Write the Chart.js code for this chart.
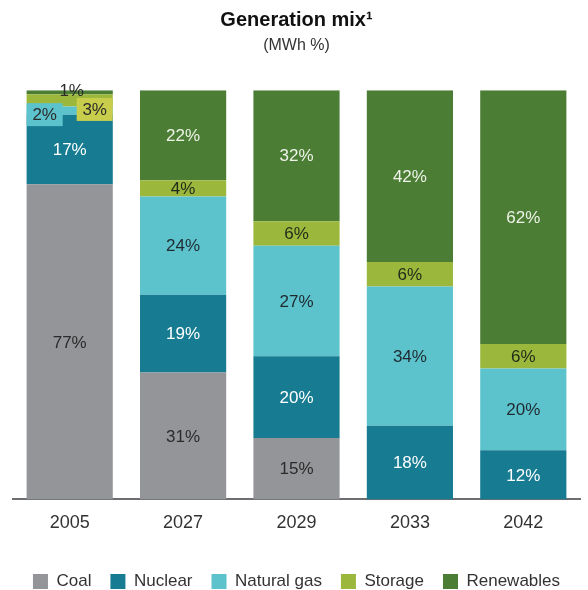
<!DOCTYPE html>
<html>
<head>
<meta charset="utf-8">
<script src="https://cdn.jsdelivr.net/npm/chart.js@4"></script>
<style>
  html, body { margin: 0; padding: 0; background: #fff; }
  #wrap { width: 588px; height: 590px; }
</style>
</head>
<body>
<div id="wrap"><canvas id="mixChart"></canvas></div>
<script>
const years = ['2005', '2027', '2029', '2033', '2042'];
const coal = [77, 31, 15, 0, 0];
const nuclear = [17, 19, 20, 18, 12];
const naturalGas = [2, 24, 27, 34, 20];
const storage = [3, 4, 6, 6, 6];
const renewables = [1, 22, 32, 42, 62];

const seriesNames = ['Coal', 'Nuclear', 'Natural gas', 'Storage', 'Renewables'];
const seriesColors = ['#939598', '#177b91', '#5cc3cd', '#9bb83c', '#4b7d35'];
const labelColors = ['#2b2b2b', '#ffffff', '#1f2a30', '#1f2a1a', '#eef3e8'];

// small 2005 segments get their labels moved out, like the original
const labelShifts = {
    '2-0': { dx: -25, dy: 4, box: '#5cc3cd', w: 36, h: 23 },
    '3-0': { dx: 25, dy: 9, box: '#c9cd4c', w: 36, h: 23 },
    '4-0': { dx: 2, dy: -2, color: '#2b2b2b' }
};

const FONT = "'Liberation Sans', Arial, sans-serif";

const barLabels = {
    id: 'barLabels',
    afterDatasetsDraw(chart) {
        const ctx = chart.ctx;
        ctx.save();
        ctx.font = '17px ' + FONT;
        ctx.textAlign = 'center';
        ctx.textBaseline = 'middle';
        chart.data.datasets.forEach((ds, di) => {
            chart.getDatasetMeta(di).data.forEach((bar, i) => {
                const v = ds.data[i];
                if (!v) return;
                const c = bar.getCenterPoint();
                const s = labelShifts[di + '-' + i] || {};
                const x = c.x + (s.dx || 0);
                const y = c.y + (s.dy || 0);
                if (s.box) {
                    ctx.fillStyle = s.box;
                    ctx.fillRect(x - s.w / 2, y - s.h / 2, s.w, s.h);
                }
                ctx.fillStyle = s.color || (s.box ? '#2b2b2b' : labelColors[di]);
                ctx.fillText(v + '%', x, y + 1);
            });
        });
        ctx.restore();
    }
};

const datasets = [coal, nuclear, naturalGas, storage, renewables].map((vals, k) => ({
    label: seriesNames[k],
    data: vals,
    backgroundColor: seriesColors[k],
    borderWidth: 0,
    barPercentage: 0.76,
    categoryPercentage: 1.0
}));

const ctx = document.getElementById('mixChart').getContext('2d');
new Chart(ctx, {
    type: 'bar',
    data: { labels: years, datasets: datasets },
    options: {
        responsive: true,
        maintainAspectRatio: false,
        animation: false,
        layout: { padding: { left: 13, right: 8, top: 0, bottom: -10 } },
        scales: {
            x: {
                stacked: true,
                grid: { display: false, drawTicks: false },
                border: { display: true, color: '#6d6e71', width: 2 },
                ticks: { color: '#333', padding: 13, font: { family: FONT, size: 18 } },
                afterFit(scale) { scale.height += 7; }
            },
            y: {
                stacked: true,
                display: false,
                min: 0,
                max: 100
            }
        },
        plugins: {
            title: {
                display: true,
                text: 'Generation mix\u00b9',
                color: '#111',
                font: { family: FONT, size: 20, weight: 'bold' },
                padding: { top: 8, bottom: 2 }
            },
            subtitle: {
                display: true,
                text: '(MWh %)',
                color: '#333',
                font: { family: FONT, size: 16 },
                padding: { top: 2, bottom: 35 }
            },
            legend: {
                position: 'bottom',
                labels: {
                    color: '#333',
                    boxWidth: 15,
                    boxHeight: 15,
                    padding: 19,
                    font: { family: FONT, size: 17 }
                }
            },
            tooltip: { enabled: false }
        }
    },
    plugins: [barLabels]
});
</script>
</body>
</html>
